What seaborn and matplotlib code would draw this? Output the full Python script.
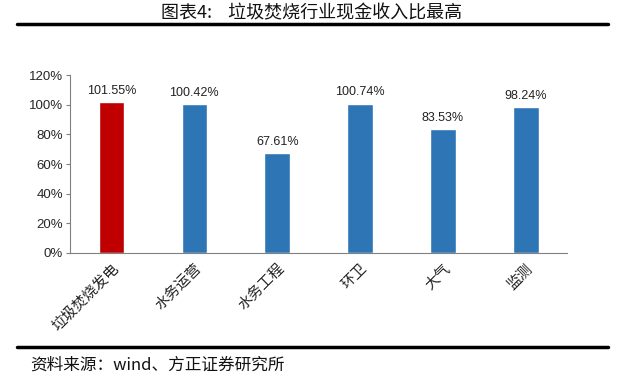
import matplotlib
matplotlib.use("Agg")
import matplotlib.pyplot as plt
import seaborn as sns
import pandas as pd

categories = ["垃圾焚烧发电", "水务运营", "水务工程", "环卫", "大气", "监测"]
values = [101.55, 100.42, 67.61, 100.74, 83.53, 98.24]
bar_colors = ["#C00000", "#2E75B6", "#2E75B6", "#2E75B6", "#2E75B6", "#2E75B6"]
yticks = [0, 20, 40, 60, 80, 100, 120]

sns.set_style("white")
plt.rcParams["font.family"] = ["Noto Sans CJK SC", "DejaVu Sans"]

df = pd.DataFrame({"行业": categories, "比例": values})

fig = plt.figure(figsize=(6.2, 3.81), dpi=100)
ax = fig.add_axes([0.113, 0.336, 0.802, 0.467])
sns.barplot(data=df, x="行业", y="比例", hue="行业", palette=bar_colors,
            width=0.31, legend=False, ax=ax, saturation=1)

for i, v in enumerate(values):
    ax.text(i, v + 3.5, f"{v:.2f}%", ha="center", va="bottom",
            fontsize=9, color="#222222", family=["Liberation Sans", "DejaVu Sans"])

ax.set_ylim(0, 120)
ax.set_xlim(-0.5, len(categories) - 0.5)
ax.set_yticks(yticks)
ax.set_yticklabels([f"{t}%" for t in yticks], fontsize=9.5,
                   family=["Liberation Sans", "DejaVu Sans"])
ax.set_xticks(range(len(categories)))
ax.set_xticklabels(categories, rotation=45, ha="right", va="top",
                   rotation_mode="anchor", fontsize=10.5, color="#222222")
ax.set_xlabel("")
ax.set_ylabel("")
sns.despine(ax=ax)
for s in ["left", "bottom"]:
    ax.spines[s].set_color("#808080")
    ax.spines[s].set_linewidth(0.8)
ax.tick_params(axis="y", length=3, color="#808080", direction="out", left=True, pad=2)
ax.tick_params(axis="x", length=0, pad=6)

fig.text(0.503, 0.966, "图表4:    垃圾焚烧行业现金收入比最高", ha="center", va="center",
         fontsize=13, color="#111111")
fig.add_artist(plt.Line2D([0.028, 0.98], [0.938, 0.938], color="black", linewidth=2.5))
fig.add_artist(plt.Line2D([0.028, 0.98], [0.089, 0.089], color="black", linewidth=2.5))
fig.text(0.048, 0.042, "资料来源：wind、方正证券研究所", ha="left", va="center",
         fontsize=12, style="italic", color="#111111")

fig.savefig("out.png", dpi=100)
